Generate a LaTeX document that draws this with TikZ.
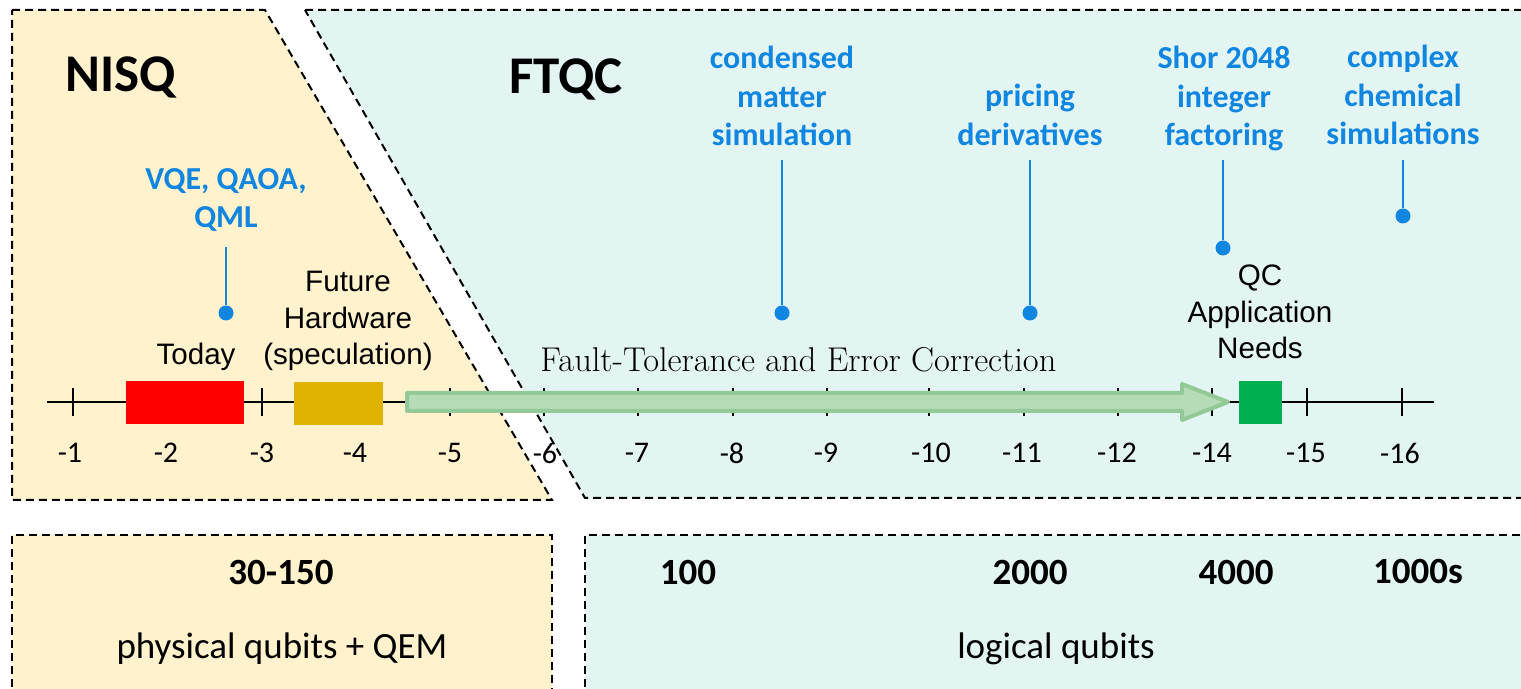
\documentclass[tikz,border=0pt]{standalone}
\usepackage{fontspec}
\newfontfamily\calfont{Carlito}
\newfontfamily\arialfont{Liberation Sans}
\definecolor{nisqfill}{HTML}{FFF2CC}
\definecolor{ftqcfill}{HTML}{E2F5F3}
\definecolor{appblue}{HTML}{1086E0}
\definecolor{todayred}{HTML}{FF0000}
\definecolor{futuregold}{HTML}{DFB300}
\definecolor{needsgreen}{HTML}{00B050}
\definecolor{arrowfill}{HTML}{B4DCB7}
\definecolor{arrowedge}{HTML}{93C996}
\tikzset{
 panel/.style={draw=black, line width=1pt, dash pattern=on 4pt off 2.5pt},
 axisline/.style={draw=black, line width=1pt},
 ticklabel/.style={font=\calfont\fontsize{15}{18}\selectfont, inner sep=0pt},
 applabel/.style={font=\calfont\bfseries\fontsize{16}{19.25}\selectfont, text=appblue, align=center, inner sep=0pt},
 pinline/.style={draw=appblue, line width=1pt},
 pindot/.style={circle, fill=appblue, inner sep=0pt, minimum size=7.5pt},
 hwlabel/.style={font=\arialfont\fontsize{14.8}{18.25}\selectfont, align=center, inner sep=0pt},
 era/.style={font=\calfont\bfseries\fontsize{26.5}{30}\selectfont, inner sep=0pt},
 countlabel/.style={font=\calfont\bfseries\fontsize{18.5}{22}\selectfont, inner sep=0pt},
 qubitlabel/.style={font=\calfont\fontsize{18.5}{22}\selectfont, inner sep=0pt},
 statebox/.style={inner sep=0pt, outer sep=0pt, minimum height=21.5pt},
 bigarrow/.style={fill=arrowfill, draw=arrowedge, line width=2pt, line join=round},
 ftlabel/.style={font=\fontsize{17.2}{20}\selectfont, inner sep=0pt},
}
\begin{document}
\begin{tikzpicture}[x=0.5pt, y=-0.5pt]
\path[use as bounding box] (0,0) rectangle (1521,689);
\clip (0,0) rectangle (1521,689);
% top panels
\path[panel, fill=nisqfill] (12,10) -- (265,10) -- (552,500) -- (12,500) -- cycle;
\path[panel, fill=ftqcfill] (305,10) -- (1535,10) -- (1535,498) -- (585,498) -- cycle;
% bottom panels
\fill[nisqfill] (12,535) rectangle (552,700);
\draw[panel] (12,700) -- (12,535) -- (552,535) -- (552,700);
\fill[ftqcfill] (585,535) rectangle (1535,700);
\draw[panel] (585,700) -- (585,535) -- (1535,535);
% axis
\coordinate (axL) at (47,402);
\coordinate (axR) at (1434,402);
\draw[axisline] (axL) -- (axR);
\foreach \x in {73,262,450,544,638,733,827,929,1024,1118,1212,1307,1402}
  \draw[axisline] (\x,388) -- (\x,416);
\foreach \x/\l [count=\i] in {70/-1,166/-2,262/-3,355/-4,450/-5,545/-6,637/-7,732/-8,826/-9,931/-10,1022/-11,1117/-12,1212/-14,1306/-15,1400/-16}
  \node[ticklabel] (tick\i) at (\x,453) {\l};
% state boxes
\node[statebox, fill=todayred, minimum width=59pt] (todaybox) at (185,402.5) {};
\node[statebox, fill=futuregold, minimum width=44.5pt] (futurebox) at (338.5,403.5) {};
\node[statebox, fill=needsgreen, minimum width=21.5pt] (needsbox) at (1260.5,402.5) {};
% big arrow
\draw[bigarrow] (407,393) -- (1182,393) -- (1182,384) -- (1228,402) -- (1182,420) -- (1182,411) -- (407,411) -- cycle;
\node[ftlabel, anchor=base west] (ftec) at (540,372) {Fault-Tolerance and Error Correction};
% era titles
\node[era] (nisq) at (121,77) {NISQ};
\node[era] (ftqc) at (566,79) {FTQC};
% hardware labels
\node[hwlabel] (today) at (196,357) {Today};
\node[hwlabel] (future) at (348,321) {Future\\Hardware\\(speculation)};
\node[hwlabel] (needs) at (1260,312) {QC\\Application\\Needs};
% applications
\node[applabel] (vqe) at (226,200) {VQE, QAOA,\\QML};
\coordinate (vqeTop) at (226,247);
\node[pindot] (vqeDot) at (226,313) {};
\draw[pinline] (vqeTop) -- (vqeDot);
\node[applabel] (cms) at (782,96) {condensed\\matter\\simulation};
\coordinate (cmsTop) at (782,160);
\node[pindot] (cmsDot) at (782,313) {};
\draw[pinline] (cmsTop) -- (cmsDot);
\node[applabel] (pd) at (1030,115) {pricing\\derivatives};
\coordinate (pdTop) at (1030,160);
\node[pindot] (pdDot) at (1030,313) {};
\draw[pinline] (pdTop) -- (pdDot);
\node[applabel] (shor) at (1224,98.5) {Shor 2048\\integer\\factoring};
\coordinate (shorTop) at (1223,160);
\node[pindot] (shorDot) at (1223,248) {};
\draw[pinline] (shorTop) -- (shorDot);
\node[applabel] (chem) at (1403,95) {complex\\chemical\\simulations};
\coordinate (chemTop) at (1403,160);
\node[pindot] (chemDot) at (1403,216) {};
\draw[pinline] (chemTop) -- (chemDot);
% bottom texts
\node[countlabel] (c30) at (281,572) {30-150};
\node[qubitlabel] (phys) at (282,649) {physical qubits + QEM};
\node[countlabel] (c100) at (688,572) {100};
\node[countlabel] (c2000) at (1030,572) {2000};
\node[countlabel] (c4000) at (1236,572) {4000};
\node[countlabel] (c1000s) at (1418,572) {1000s};
\node[qubitlabel] (logical) at (1056,649) {logical qubits};
\end{tikzpicture}
\end{document}
